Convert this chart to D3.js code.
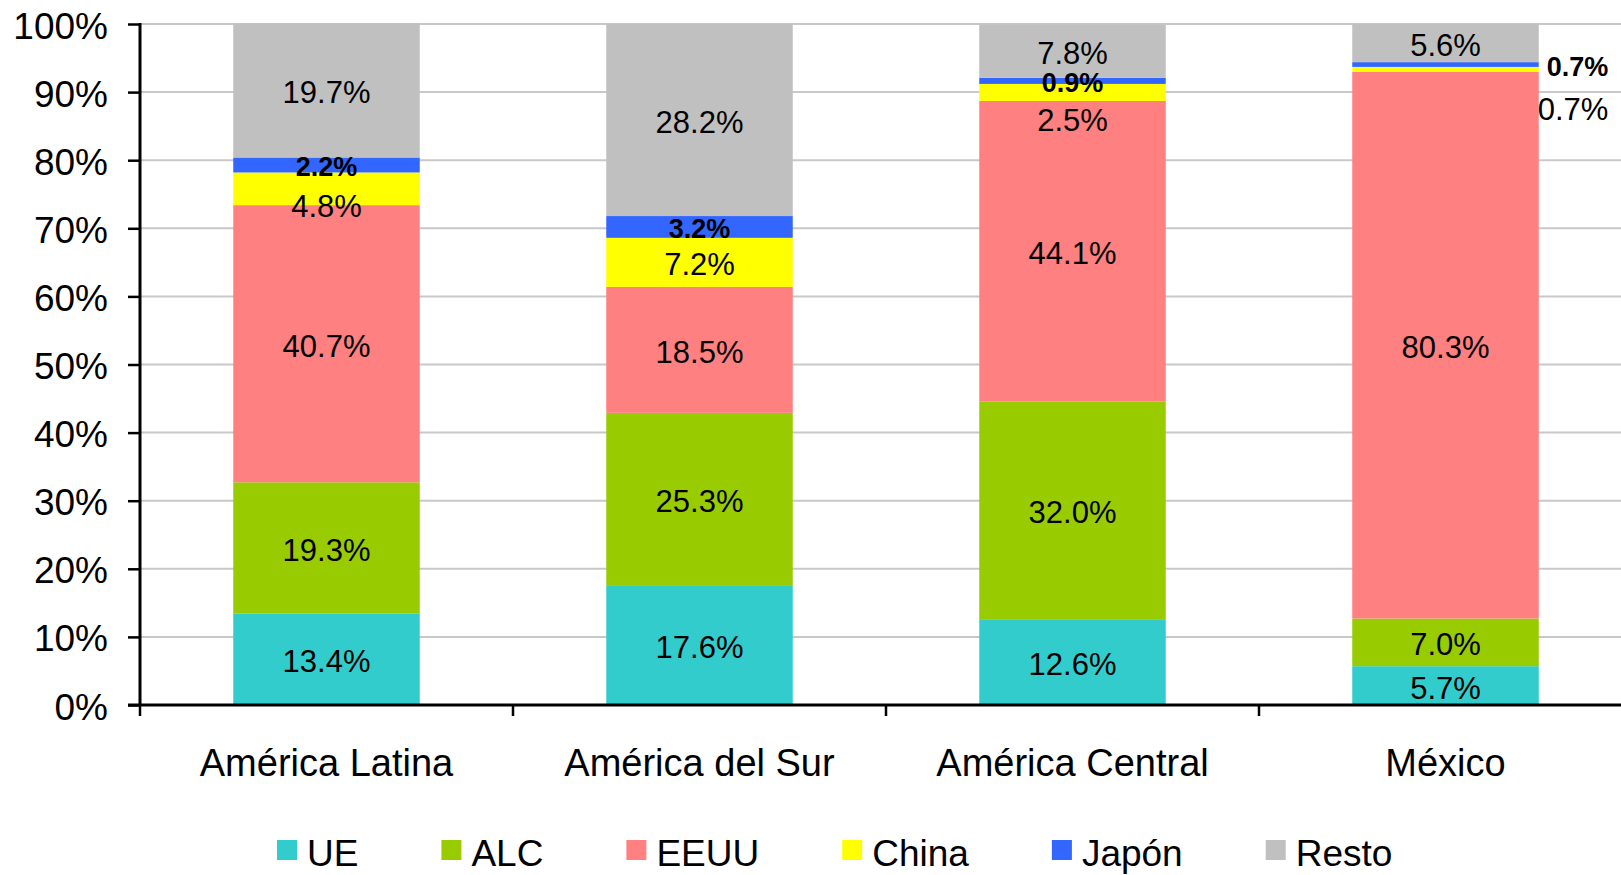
<!DOCTYPE html>
<html><head><meta charset="utf-8">
<script src="https://cdn.jsdelivr.net/npm/d3@7"></script>
<style>
html,body{margin:0;padding:0;background:#fff;}
svg{display:block;font-family:"Liberation Sans",Arial,sans-serif;}
</style></head>
<body><svg id="chart" width="1621" height="875"></svg>
<script>
// ---- data ----
const categories = ["América Latina", "América del Sur", "América Central", "México"];
const seriesNames = ["UE", "ALC", "EEUU", "China", "Japón", "Resto"];
const UE    = [13.4, 17.6, 12.6, 5.7];
const ALC   = [19.3, 25.3, 32.0, 7.0];
const EEUU  = [40.7, 18.5, 44.1, 80.3];
const China = [4.8, 7.2, 2.5, 0.7];
const Japon = [2.2, 3.2, 0.9, 0.7];
const Resto = [19.7, 28.2, 7.8, 5.6];
const yTicks = [0, 10, 20, 30, 40, 50, 60, 70, 80, 90, 100];

// ---- styles / layout ----
const colors = ["#33CCCC", "#99CC00", "#FF8080", "#FFFF00", "#3366FF", "#C0C0C0"];
const boldSeries = {"Japón": true};
// manual label adjustments (as in the original chart)
const labelAdjust = {
  "América Latina|China": {dy: 15},
  "América Central|China": {dy: 26},
  "México|China": {outside: true, dx: -1, dy: 38},
  "México|Japón": {outside: true, dx: 8, dy: 0}
};

const values = [UE, ALC, EEUU, China, Japon, Resto];
const table = categories.map((c, i) => {
  const row = {cat: c};
  seriesNames.forEach((s, j) => row[s] = values[j][i]);
  return row;
});
const stacked = d3.stack().keys(seriesNames)(table);

const svg = d3.select("#chart");
const x0 = 140, yBottom = 705, yTop = 24, xRight = 1621;
const step = 373;
const x = d3.scaleBand().domain(categories).range([x0, x0 + step * categories.length])
  .paddingInner(0.5).paddingOuter(0.25);
const y = d3.scaleLinear().domain([0, 100]).range([yBottom, yTop]);

// gridlines
svg.append("g").selectAll("line").data(yTicks.filter(t => t > 0)).join("line")
  .attr("x1", x0).attr("x2", xRight)
  .attr("y1", d => y(d)).attr("y2", d => y(d))
  .attr("stroke", "#c8c8c8").attr("stroke-width", 2);

// bars
const layers = svg.append("g").selectAll("g").data(stacked).join("g")
  .attr("fill", (d, i) => colors[i]);
layers.selectAll("rect").data(d => d).join("rect")
  .attr("x", d => x(d.data.cat))
  .attr("width", x.bandwidth())
  .attr("y", d => y(d[1]))
  .attr("height", d => y(d[0]) - y(d[1]));

// y axis
const yAxis = svg.append("g").attr("transform", `translate(${x0},0)`)
  .call(d3.axisLeft(y).tickValues(yTicks).tickSize(12).tickPadding(20)
    .tickFormat(d => d + "%"));
yAxis.select(".domain").remove();
yAxis.selectAll(".tick line").attr("stroke", "#000").attr("stroke-width", 2.5);
yAxis.selectAll(".tick text").attr("font-size", 37).attr("fill", "#000")
  .attr("font-family", "Liberation Sans, Arial, sans-serif").attr("dy", "0.38em");
svg.append("line").attr("x1", x0).attr("x2", x0).attr("y1", yTop - 1).attr("y2", yBottom + 1)
  .attr("stroke", "#000").attr("stroke-width", 3);

// x axis
svg.append("line").attr("x1", x0 - 12).attr("x2", xRight).attr("y1", yBottom).attr("y2", yBottom)
  .attr("stroke", "#000").attr("stroke-width", 3);
const boundaries = categories.map(c => x(c) - x.step() * x.paddingOuter());
svg.append("g").selectAll("line").data(boundaries).join("line")
  .attr("x1", d => d).attr("x2", d => d)
  .attr("y1", yBottom).attr("y2", yBottom + 11)
  .attr("stroke", "#000").attr("stroke-width", 2.5);
svg.append("g").selectAll("text").data(categories).join("text")
  .attr("x", d => x(d) + x.bandwidth() / 2)
  .attr("y", 776)
  .attr("text-anchor", "middle")
  .attr("font-size", 38)
  .attr("fill", "#000")
  .text(d => d);

// data labels
const fmt = d3.format(".1f");
stacked.forEach((layer, si) => {
  const sName = seriesNames[si];
  layer.forEach(d => {
    const cat = d.data.cat;
    const adj = labelAdjust[cat + "|" + sName] || {};
    const cy = (y(d[0]) + y(d[1])) / 2 + (adj.dy || 0);
    let cx = x(cat) + x.bandwidth() / 2, anchor = "middle";
    if (adj.outside) { cx = x(cat) + x.bandwidth() + adj.dx; anchor = "start"; }
    svg.append("text")
      .attr("x", cx).attr("y", cy).attr("dy", "0.42em")
      .attr("text-anchor", anchor)
      .attr("font-size", boldSeries[sName] ? 27 : 31)
      .attr("font-weight", boldSeries[sName] ? "bold" : "normal")
      .attr("fill", "#000")
      .text(fmt(d.data[sName]) + "%");
  });
});

// legend
const legend = svg.append("g");
let lx = 277;
seriesNames.forEach((s, i) => {
  legend.append("rect").attr("x", lx).attr("y", 840).attr("width", 20).attr("height", 20)
    .attr("fill", colors[i]);
  const t = legend.append("text").attr("x", lx + 30).attr("y", 866)
    .attr("font-size", 37).attr("fill", "#000").text(s);
  lx += 30 + t.node().getComputedTextLength() + 83;
});
</script></body></html>
